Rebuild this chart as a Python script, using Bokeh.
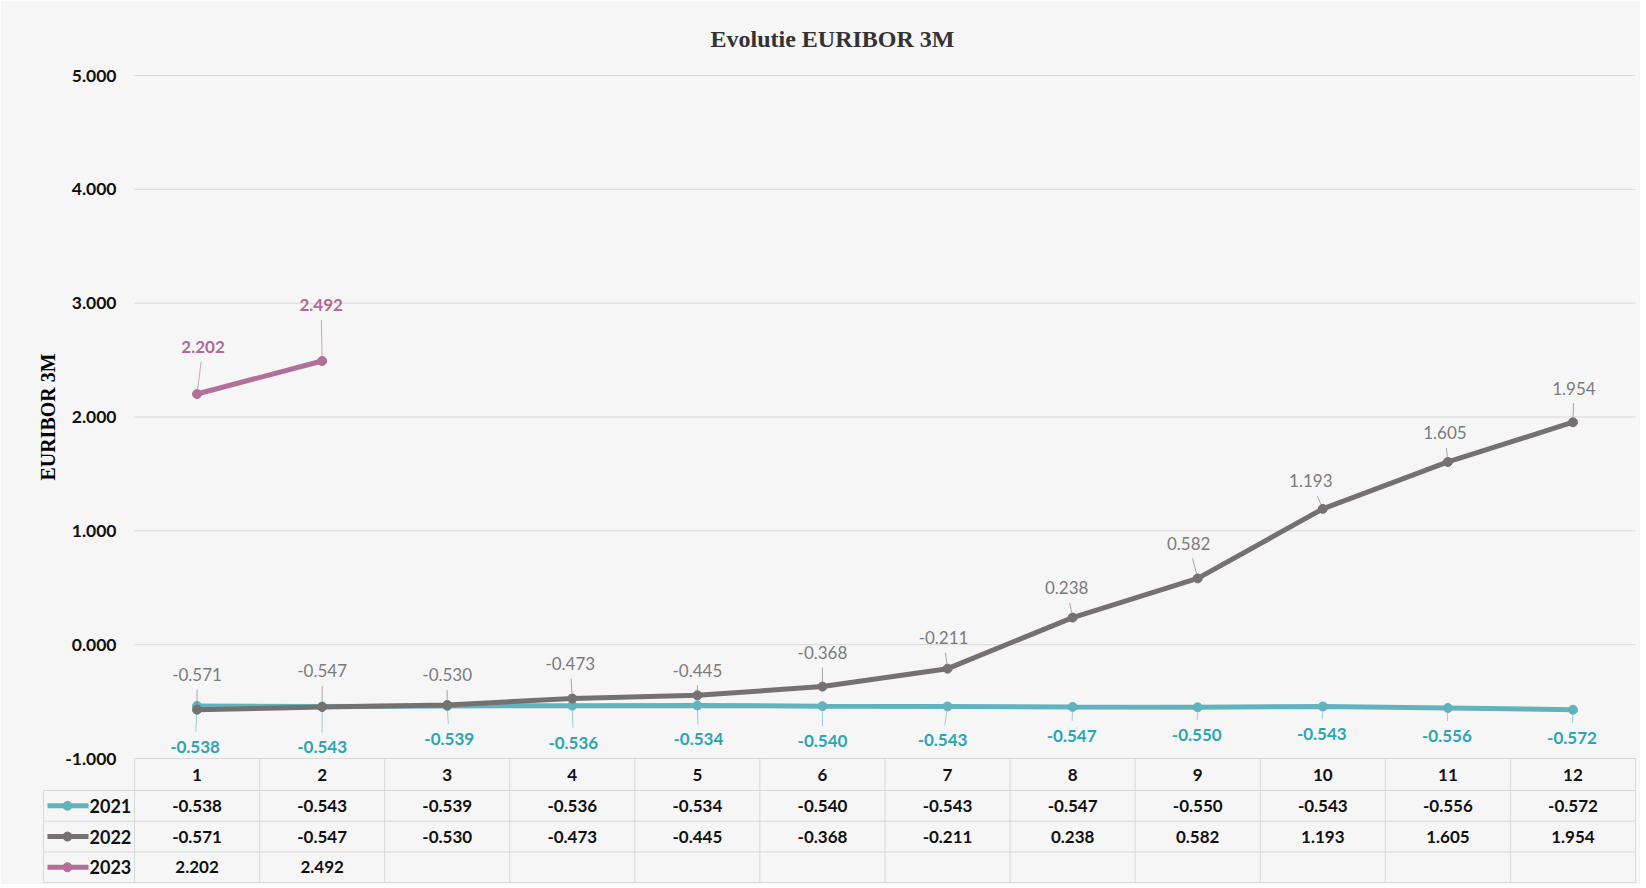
import math
from bokeh.plotting import figure
from bokeh.models import Range1d, FixedTicker, NumeralTickFormatter
from bokeh.embed import file_html
from bokeh.resources import INLINE
from bokeh.core.properties import value

# ---------------- data ----------------
months = list(range(1, 13))
euribor_2021 = [-0.538, -0.543, -0.539, -0.536, -0.534, -0.540, -0.543, -0.547, -0.550, -0.543, -0.556, -0.572]
euribor_2022 = [-0.571, -0.547, -0.530, -0.473, -0.445, -0.368, -0.211, 0.238, 0.582, 1.193, 1.605, 1.954]
euribor_2023 = [2.202, 2.492]
series_names = ["2021", "2022", "2023"]
y_ticks = [-1, 0, 1, 2, 3, 4, 5]
title_text = "Evolutie EURIBOR 3M"
y_title = "EURIBOR 3M"

# ---------------- label placement (pixels relative to the point) ----------------
lbl_2021_dx = [-2, 0, 2, 1, 1, 0, -5, -1, -1, -1, -1, -1]
lbl_2021_dy = [41, 41, 33, 37, 34, 35, 34, 29, 28, 28, 28, 28]
lbl_2022_dx = [0, 0, 0, -2, 0, 0, -4, -6, -9, -12, -3, 1]
lbl_2022_dy = [-35, -36, -30, -35, -25, -34, -31, -30, -35, -28, -29, -34]
lbl_2023_dx = [6, -1]
lbl_2023_dy = [-47, -56]

# ---------------- style / layout (pixels) ----------------
BG = "#f6f6f6"
GRID = "#d9d9d9"
C21_LINE, C21_TEXT = "#63b3bf", "#2aa6b3"
C22_LINE, C22_TEXT = "#767171", "#7b7b7b"
C23_LINE, C23_TEXT = "#b36e99", "#b3689a"
SANS = value("Lato")
SERIF = value("Liberation Serif")

W, H = 1640, 884
PX_X = 1501 / 12.0          # pixels per month
PX_Y = 683 / 6.0            # pixels per unit
PLOT_LEFT = 134             # canvas x of month 0.5
FRAME_LEFT = 30             # canvas x of frame left edge
TABLE_LEFT = 43             # canvas x of data table left edge
TOP = 73                    # frame top (canvas px)
HDR_H, ROW_H = 32, 30.7     # table row heights

x_start = 0.5 - (PLOT_LEFT - FRAME_LEFT) / PX_X
x_end = 12.5 + 2 / PX_X
y_end = 5 + 2 / PX_Y
y_start = y_end - (H - TOP) / PX_Y


def cx(px):
    return 0.5 + (px - PLOT_LEFT) / PX_X


p = figure(width=W, height=H, x_range=Range1d(x_start, x_end), y_range=Range1d(y_start, y_end),
           output_backend="svg", toolbar_location=None, x_axis_location=None,
           min_border_left=FRAME_LEFT, min_border_right=W - 1637, min_border_top=TOP, min_border_bottom=0,
           background_fill_color=BG, border_fill_color=BG, outline_line_color=None)

p.title.text = title_text
p.title.align = "left"
p.title.offset = 710 - FRAME_LEFT
p.title.standoff = 44
p.title.text_font = "Liberation Serif"
p.title.text_font_size = "24px"
p.title.text_font_style = "bold"
p.title.text_color = "#333333"

# y axis (labels pulled in to sit just left of the plotting area)
p.yaxis.ticker = FixedTicker(ticks=y_ticks)
p.yaxis.formatter = NumeralTickFormatter(format="0.000")
p.yaxis.axis_line_color = None
p.yaxis.major_tick_line_color = None
p.yaxis.minor_tick_line_color = None
p.yaxis.major_tick_out = 0
p.yaxis.major_tick_in = 0
p.yaxis.major_label_standoff = -(PLOT_LEFT - 18 - FRAME_LEFT)
p.yaxis.major_label_text_font = "Lato"
p.yaxis.major_label_text_font_style = "bold"
p.yaxis.major_label_text_font_size = "17.5px"
p.yaxis.major_label_text_color = "#111111"
p.grid.visible = False

# y axis title, centred on the plotting area
p.text([cx(47)], [(y_ticks[0] + y_ticks[-1]) / 2], text=[y_title], angle=math.pi / 2,
       text_align="center", text_baseline="middle", text_font=SERIF, text_font_size="20px",
       text_font_style="bold", text_color="#000000")

# horizontal gridlines over the plotting area
p.segment([0.5] * len(y_ticks), y_ticks, [12.5] * len(y_ticks), y_ticks, line_color=GRID, line_width=1)

# ---------------- data table ----------------
y_hdr_bot = -1 - HDR_H / PX_Y
row_tops = [y_hdr_bot - i * ROW_H / PX_Y for i in range(3)]
row_mid = [t - ROW_H / 2 / PX_Y for t in row_tops]
y_tab_bot = row_tops[-1] - ROW_H / PX_Y
x_tab_left = cx(TABLE_LEFT)

hy = row_tops + [y_tab_bot]
p.segment([x_tab_left] * len(hy), hy, [12.5] * len(hy), hy, line_color=GRID, line_width=1)
vx = [0.5 + i for i in range(13)]
p.segment(vx, [y_tab_bot] * len(vx), vx, [-1] * len(vx), line_color=GRID, line_width=1)
p.segment([x_tab_left], [y_tab_bot], [x_tab_left], [y_hdr_bot], line_color=GRID, line_width=1)

# header row (months)
p.text(months, [-1 - HDR_H / 2 / PX_Y] * 12, text=[str(m) for m in months], text_align="center",
       text_baseline="middle", text_font=SANS, text_font_size="17px", text_font_style="bold",
       text_color="#111111")

rows = [(series_names[0], euribor_2021, C21_LINE, row_mid[0]),
        (series_names[1], euribor_2022, C22_LINE, row_mid[1]),
        (series_names[2], euribor_2023, C23_LINE, row_mid[2])]
for name, vals, col, yc in rows:
    p.segment([cx(47)], [yc], [cx(88)], [yc], line_color=col, line_width=5)
    p.scatter([cx(67)], [yc], size=9, fill_color=col, line_color=col)
    p.text([cx(89)], [yc], text=[name], text_align="left", text_baseline="middle",
           text_font=SANS, text_font_size="18px", text_font_style="bold", text_color="#111111")
    p.text(months[:len(vals)], [yc] * len(vals), text=["%.3f" % v for v in vals],
           text_align="center", text_baseline="middle",
           text_font=SANS, text_font_size="17px", text_font_style="bold", text_color="#111111")


def add_series(xs, ys, dxs, dys, line_color, text_color, bold):
    x0s, y0s, x1s, y1s = [], [], [], []
    for x, y, dx, dy in zip(xs, ys, dxs, dys):
        ady = abs(dy)
        if ady - 15 > 6:
            f0 = 5.0 / ady
            f1 = (ady - 15.0) / ady
            x0s.append(x + dx * f0 / PX_X)
            y0s.append(y - dy * f0 / PX_Y)
            x1s.append(x + dx * f1 / PX_X)
            y1s.append(y - dy * f1 / PX_Y)
    p.segment(x0s, y0s, x1s, y1s, line_color=line_color, line_width=1, line_alpha=0.6)
    p.line(xs, ys, line_color=line_color, line_width=5)
    p.scatter(xs, ys, size=9, fill_color=line_color, line_color=line_color)
    lx = [x + dx / PX_X for x, dx in zip(xs, dxs)]
    ly = [y - dy / PX_Y for y, dy in zip(ys, dys)]
    p.text(lx, ly, text=["%.3f" % v for v in ys], text_align="center", text_baseline="middle",
           text_font=SANS, text_font_size="17px", text_color=text_color,
           text_font_style="bold" if bold else "normal")


add_series(months, euribor_2021, lbl_2021_dx, lbl_2021_dy, C21_LINE, C21_TEXT, True)
add_series(months, euribor_2022, lbl_2022_dx, lbl_2022_dy, C22_LINE, C22_TEXT, False)
add_series(months[:len(euribor_2023)], euribor_2023, lbl_2023_dx, lbl_2023_dy, C23_LINE, C23_TEXT, True)

open("out.html", "w").write(file_html(p, INLINE))
